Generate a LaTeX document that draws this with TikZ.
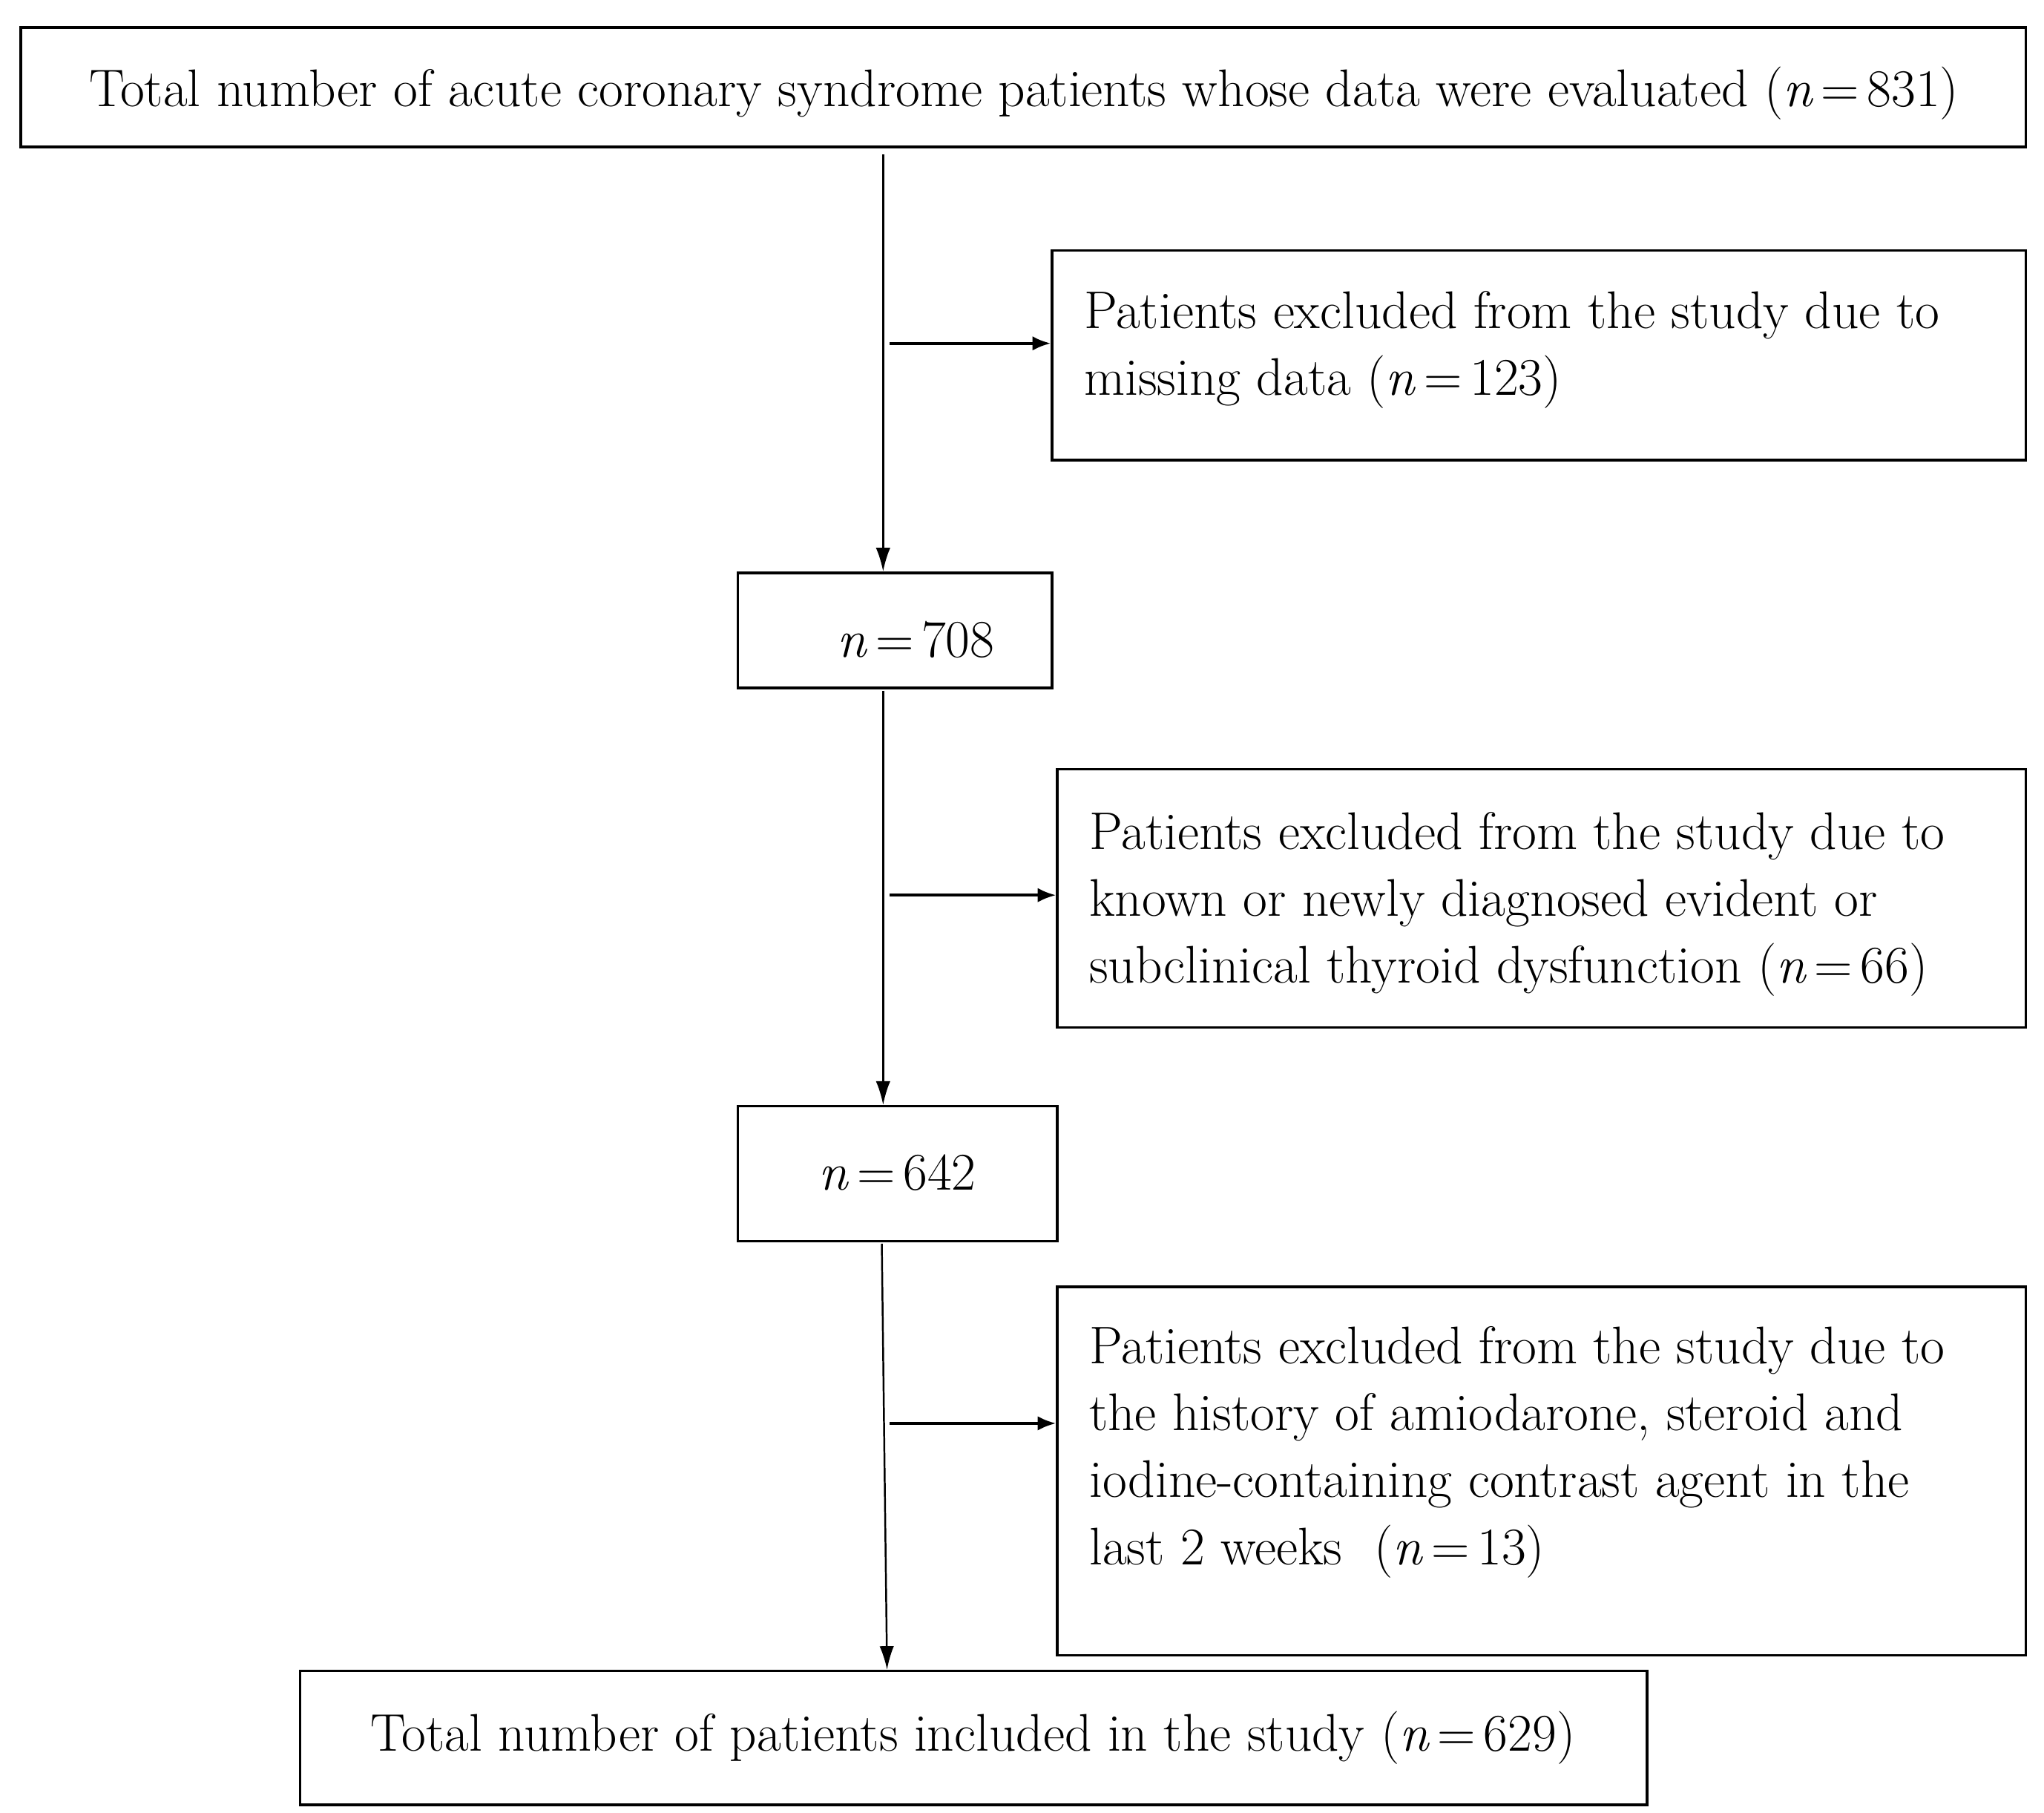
\documentclass[tikz,border=0pt]{standalone}
\usepackage{fontspec}
\usetikzlibrary{arrows.meta}
\newcommand{\nval}[1]{\textit{n}\kern3pt=\kern3pt#1}
\tikzset{
  boxn/.style={draw, line width=1pt, inner sep=0pt},
  txt/.style={inner sep=0pt, align=left, font=\fontsize{20.2}{25.5}\selectfont},
  arr/.style={-{Latex[length=9pt,width=5.5pt]}, line width=0.7pt},
  harr/.style={-{Latex[length=7pt,width=5.5pt]}, line width=1.1pt}
}
\begin{document}
\begin{tikzpicture}[x=0.5pt,y=-0.5pt]
\fill[white] (0,0) rectangle (1560,1383);
\useasboundingbox (0,0) rectangle (1560,1383);
% boxes
\node[boxn, minimum width=765pt, minimum height=45.5pt] (top) at (781,66.5) {};
\node[boxn, minimum width=371.5pt, minimum height=80pt] (b2) at (1174.5,271) {};
\node[boxn, minimum width=120pt, minimum height=44pt] (b708) at (683,481) {};
\node[boxn, minimum width=369.5pt, minimum height=98.5pt] (b3) at (1176.5,685.5) {};
\node[boxn, minimum width=122pt, minimum height=51.5pt] (b642) at (685,895.5) {};
\node[boxn, minimum width=369.5pt, minimum height=140.5pt] (b4) at (1176.5,1122.5) {};
\node[boxn, minimum width=514pt, minimum height=51pt] (bot) at (743,1326) {};
% texts
\node[txt] (ttop) at (781.5,71) {Total number of acute coronary syndrome patients whose data were evaluated (\nval{831})};
\node[txt, anchor=west] (t2) at (827,267) {Patients excluded from the study due to\\missing data (\nval{123})};
\node[txt] (t708) at (699,488) {\nval{708}};
\node[txt, anchor=west] (t3) at (831,690) {Patients excluded from the study due to\\known or newly diagnosed evident or\\subclinical thyroid dysfunction (\nval{66})};
\node[txt] (t642) at (685,895) {\nval{642}};
\node[txt, anchor=west] (t4) at (831,1108) {Patients excluded from the study due to\\the history of amiodarone, steroid and\\iodine-containing contrast agent in the\\last 2 weeks\ \ (\nval{13})};
\node[txt] (tbot) at (742.5,1326) {Total number of patients included in the study (\nval{629})};
% connectors
\coordinate (s1) at (674,118);
\draw[arr] (s1) -- (s1 |- b708.north);
\coordinate (h1) at (679,262);
\draw[harr] (h1) -- (h1 -| b2.west);
\coordinate (s2) at (674,527);
\draw[arr] (s2) -- (s2 |- b642.north);
\coordinate (h2) at (679,683);
\draw[harr] (h2) -- (h2 -| b3.west);
\coordinate (s3) at (673,949);
\draw[arr] (s3) -- ([xshift=-33pt]bot.north);
\coordinate (h3) at (679,1086);
\draw[harr] (h3) -- (h3 -| b4.west);
\end{tikzpicture}
\end{document}
